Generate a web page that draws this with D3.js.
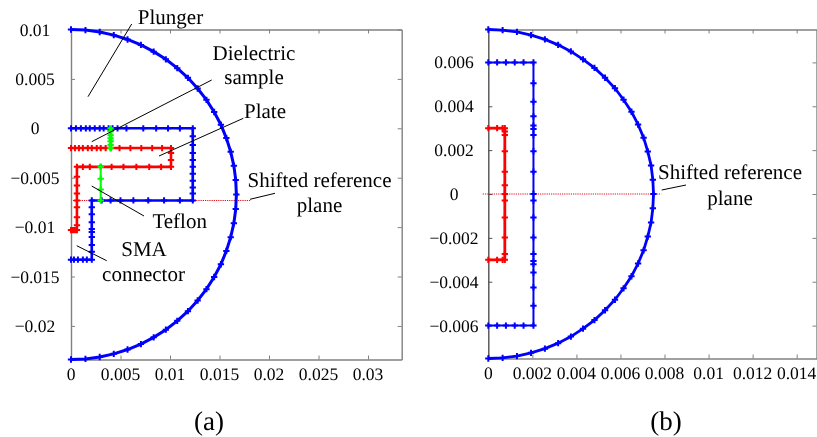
<!DOCTYPE html>
<html>
<head>
<meta charset="utf-8">
<script src="https://cdnjs.cloudflare.com/ajax/libs/d3/7.8.5/d3.min.js"></script>
<style>
html, body { margin: 0; padding: 0; background: #fff; }
svg { display: block; filter: blur(0.35px); }
text { font-family: "Liberation Serif", serif; fill: #000; text-rendering: geometricPrecision; }
</style>
</head>
<body>
<svg id="chart" width="817" height="437"></svg>
<script>
// panel (a) values, metres
var outerA = [[0,0.01],[0.00146,0.00994],[0.0029,0.00975],[0.00432,0.00943],[0.00571,0.00899],[0.00706,0.00844],[0.00835,0.00776],[0.00958,0.00698],[0.01073,0.00609],[0.01181,0.00511],[0.01279,0.00403],[0.01368,0.00288],[0.01446,0.00165],[0.01514,0.00036],[0.01569,-0.00099],[0.01613,-0.00238],[0.01645,-0.0038],[0.01664,-0.00524],[0.0167,-0.0067],[0.01664,-0.00816],[0.01645,-0.0096],[0.01613,-0.01102],[0.01569,-0.01241],[0.01514,-0.01376],[0.01446,-0.01505],[0.01368,-0.01628],[0.01279,-0.01743],[0.01181,-0.01851],[0.01073,-0.01949],[0.00958,-0.02038],[0.00835,-0.02116],[0.00706,-0.02184],[0.00571,-0.02239],[0.00432,-0.02283],[0.0029,-0.02315],[0.00146,-0.02334],[0,-0.0234]];
var conductorA = [[0,0],[0.0005,0],[0.001,0],[0.0015,0],[0.0019,0],[0.0024,0],[0.0029,0],[0.0033,0],[0.0038,0],[0.0042,0],[0.0047,0],[0.0056,0],[0.0073,0],[0.0086,0],[0.0098,0],[0.011,0],[0.0123,0],[0.0123,-0.0008],[0.0123,-0.0017],[0.0123,-0.0025],[0.0123,-0.0032],[0.0123,-0.0039],[0.0123,-0.0046],[0.0123,-0.0053],[0.0123,-0.006],[0.0123,-0.0066],[0.0123,-0.0073],[0.011,-0.0073],[0.0094,-0.0073],[0.0078,-0.0073],[0.0063,-0.0073],[0.005,-0.0073],[0.004,-0.0073],[0.0031,-0.0073],[0.0021,-0.0073],[0.0021,-0.008],[0.0021,-0.0087],[0.0021,-0.0095],[0.0021,-0.0102],[0.0021,-0.0105],[0.0021,-0.011],[0.0021,-0.0118],[0.0021,-0.0125],[0.0021,-0.0133],[0.0016,-0.0133],[0.0012,-0.0133],[0.0007,-0.0133],[0.0003,-0.0133],[0,-0.0133]];
var plateA = [[0,-0.002],[0.0004,-0.002],[0.0008,-0.002],[0.0012,-0.002],[0.0017,-0.002],[0.0021,-0.002],[0.0026,-0.002],[0.003,-0.002],[0.0035,-0.002],[0.004,-0.002],[0.0049,-0.002],[0.006,-0.002],[0.0071,-0.002],[0.0082,-0.002],[0.0092,-0.002],[0.0101,-0.002],[0.0101,-0.0025],[0.0101,-0.0032],[0.0101,-0.0039],[0.0091,-0.0039],[0.0079,-0.0039],[0.0066,-0.0039],[0.0053,-0.0039],[0.0041,-0.0039],[0.003,-0.0039],[0.0019,-0.0039],[0.0012,-0.0039],[0.0006,-0.0039],[0.0006,-0.0049],[0.0006,-0.0058],[0.0006,-0.0066],[0.0006,-0.0073],[0.0006,-0.008],[0.0006,-0.009],[0.0006,-0.0098],[0.0006,-0.0103],[0.0004,-0.0103],[0.0002,-0.0103],[0,-0.0103]];
var sampleA = [[0.004,0],[0.004,-0.0003],[0.004,-0.0007],[0.004,-0.001],[0.004,-0.0013],[0.004,-0.0017],[0.004,-0.002]];
var teflonA = [[0.003,-0.0039],[0.003,-0.0051],[0.003,-0.0062],[0.003,-0.0073]];
var refPlaneA = [[0.0002,-0.0073],[0.0181,-0.0073]];

// panel (b) values, metres
var outerB = [[0,0.0075],[0.00065,0.00747],[0.0013,0.00739],[0.00194,0.00724],[0.00257,0.00705],[0.00317,0.0068],[0.00375,0.0065],[0.0043,0.00614],[0.00482,0.00575],[0.0053,0.0053],[0.00575,0.00482],[0.00614,0.0043],[0.0065,0.00375],[0.0068,0.00317],[0.00705,0.00257],[0.00724,0.00194],[0.00739,0.0013],[0.00747,0.00065],[0.0075,0],[0.00747,-0.00065],[0.00739,-0.0013],[0.00724,-0.00194],[0.00705,-0.00257],[0.0068,-0.00317],[0.0065,-0.00375],[0.00614,-0.0043],[0.00575,-0.00482],[0.0053,-0.0053],[0.00482,-0.00575],[0.0043,-0.00614],[0.00375,-0.0065],[0.00317,-0.0068],[0.00257,-0.00705],[0.00194,-0.00724],[0.0013,-0.00739],[0.00065,-0.00747],[0,-0.0075]];
var conductorB = [[0,0.006],[0.0004,0.006],[0.0008,0.006],[0.0012,0.006],[0.0016,0.006],[0.00205,0.006],[0.00205,0.00505],[0.00205,0.00421],[0.00205,0.00354],[0.00205,0.00312],[0.00205,0.00296],[0.00205,0.00269],[0.00205,0.00195],[0.00205,0.00102],[0.00205,0],[0.00205,-0.0003],[0.00205,-0.00107],[0.00205,-0.00198],[0.00205,-0.00274],[0.00205,-0.00305],[0.00205,-0.0032],[0.00205,-0.00358],[0.00205,-0.00426],[0.00205,-0.0051],[0.00205,-0.006],[0.0016,-0.006],[0.0012,-0.006],[0.0008,-0.006],[0.0004,-0.006],[0,-0.006]];
var plateB = [[0,0.003],[0.0004,0.003],[0.00065,0.003],[0.00075,0.003],[0.00075,0.00285],[0.00075,0.00269],[0.00075,0.00195],[0.00075,0.00102],[0.00075,0.0004],[0.00075,0],[0.00075,-0.0003],[0.00075,-0.00107],[0.00075,-0.00198],[0.00075,-0.00274],[0.00075,-0.003],[0.00065,-0.003],[0.0004,-0.003],[0,-0.003]];
var refPlaneB = [[-0.00025,0],[0.00785,0]];

var xTicksA = [0, 0.005, 0.01, 0.015, 0.02, 0.025, 0.03];
var yTicksA = [0.01, 0.005, 0, -0.005, -0.01, -0.015, -0.02];
var xTicksB = [0, 0.002, 0.004, 0.006, 0.008, 0.01, 0.012, 0.014];
var yTicksB = [0.006, 0.004, 0.002, 0, -0.002, -0.004, -0.006];

var svg = d3.select('#chart');

function tickText(d) {
    return String(d).replace('-', '\u2212');
}

function drawSeries(g, x, y, points, color, width) {
    var line = d3.line().x(function(d) { return x(d[0]); }).y(function(d) { return y(d[1]); });
    g.append('path')
        .attr('d', line(points))
        .attr('fill', 'none')
        .attr('stroke', color)
        .attr('stroke-width', width);
    g.selectAll(null)
        .data(points)
        .enter()
        .append('path')
        .attr('d', d3.symbol(d3.symbolPlus, 15))
        .attr('transform', function(d) { return 'translate(' + x(d[0]) + ',' + y(d[1]) + ')'; })
        .attr('fill', 'none')
        .attr('stroke', color)
        .attr('stroke-width', 2);
}

function drawRefPlane(g, x, y, points) {
    g.append('line')
        .attr('x1', x(points[0][0]))
        .attr('x2', x(points[1][0]))
        .attr('y1', y(points[0][1]))
        .attr('y2', y(points[1][1]))
        .attr('stroke', '#e0101c')
        .attr('stroke-width', 1.1)
        .attr('stroke-dasharray', '1.2,1');
}

function drawFrame(g, x, y, xTicks, yTicks, yLabelX, leftColor) {
    var x0 = x.range()[0], x1 = x.range()[1], y0 = y.range()[0], y1 = y.range()[1];
    var axes = [
        { axis: d3.axisBottom(x).tickValues(xTicks), at: [0, y0] },
        { axis: d3.axisTop(x).tickValues(xTicks), at: [0, y1] },
        { axis: d3.axisLeft(y).tickValues(yTicks), at: [x0, 0] },
        { axis: d3.axisRight(y).tickValues(yTicks), at: [x1, 0] }
    ];
    axes.forEach(function(a, i) {
        var ag = g.append('g')
            .attr('transform', 'translate(' + a.at[0] + ',' + a.at[1] + ')')
            .call(a.axis.tickSizeOuter(0).tickSizeInner(-4).tickFormat(''));
        ag.selectAll('path, line').attr('stroke', i == 2 ? leftColor : '#808080');
        ag.select('.domain').attr('stroke-width', 1.4);
    });
    g.selectAll(null).data(xTicks).enter().append('text')
        .attr('x', function(d) { return x(d); })
        .attr('y', y0 + 20.5)
        .attr('text-anchor', 'middle')
        .attr('font-size', 17.5)
        .text(tickText);
    g.selectAll(null).data(yTicks).enter().append('text')
        .attr('x', yLabelX)
        .attr('y', function(d) { return y(d) + 6; })
        .attr('text-anchor', 'middle')
        .attr('font-size', 17.5)
        .text(tickText);
}

function addLabels(rows) {
    svg.selectAll(null).data(rows).enter().append('text')
        .attr('x', function(d) { return d[1]; })
        .attr('y', function(d) { return d[2]; })
        .attr('text-anchor', 'middle')
        .attr('font-size', function(d) { return d[3] || 21; })
        .text(function(d) { return d[0]; });
}

function addLeaders(rows) {
    svg.selectAll(null).data(rows).enter().append('line')
        .attr('x1', function(d) { return d[0]; })
        .attr('y1', function(d) { return d[1]; })
        .attr('x2', function(d) { return d[2]; })
        .attr('y2', function(d) { return d[3]; })
        .attr('stroke', '#000')
        .attr('stroke-width', 1);
}

// panel (a)
var xA = d3.scaleLinear().domain([0, 0.0334]).range([71, 401.7]);
var yA = d3.scaleLinear().domain([-0.0234, 0.01]).range([359.5, 29.5]);
var gA = svg.append('g');
drawFrame(gA, xA, yA, xTicksA, yTicksA, 35, '#808080');
drawRefPlane(gA, xA, yA, refPlaneA);
drawSeries(gA, xA, yA, outerA, '#0000ff', 3);
drawSeries(gA, xA, yA, conductorA, '#0000ff', 2.6);
drawSeries(gA, xA, yA, plateA, '#ff0000', 2.6);
drawSeries(gA, xA, yA, sampleA, '#00ff00', 3.5);
drawSeries(gA, xA, yA, teflonA, '#00ff00', 2);

// panel (b)
var xB = d3.scaleLinear().domain([0, 0.0149]).range([488.3, 816.5]);
var yB = d3.scaleLinear().domain([-0.0075, 0.0075]).range([358.5, 29.5]);
var gB = svg.append('g');
drawFrame(gB, xB, yB, xTicksB, yTicksB, 454, '#505050');
drawRefPlane(gB, xB, yB, refPlaneB);
drawSeries(gB, xB, yB, outerB, '#0000ff', 2.8);
drawSeries(gB, xB, yB, conductorB, '#0000ff', 2);
drawSeries(gB, xB, yB, plateB, '#ff0000', 2.8);

// annotations
addLeaders([
    [88, 96.7, 131.7, 24],
    [91.7, 141.7, 211.7, 80],
    [159, 156, 243.3, 118.3],
    [91.7, 186, 144, 216],
    [76.7, 245.7, 106.7, 260.7],
    [250, 199.3, 275, 193.3],
    [661.7, 190, 686, 185]
]);
addLabels([
    ['Plunger', 170.5, 24],
    ['Dielectric', 254, 60],
    ['sample', 254, 84],
    ['Plate', 265, 118],
    ['Shifted reference', 319.5, 187],
    ['plane', 319.5, 212],
    ['Teflon', 179.7, 228],
    ['SMA', 144, 255.7],
    ['connector', 143.5, 281],
    ['Shifted reference', 730, 179],
    ['plane', 730, 205],
    ['(a)', 209, 430, 27],
    ['(b)', 666, 430, 27]
]);
</script>
</body>
</html>
